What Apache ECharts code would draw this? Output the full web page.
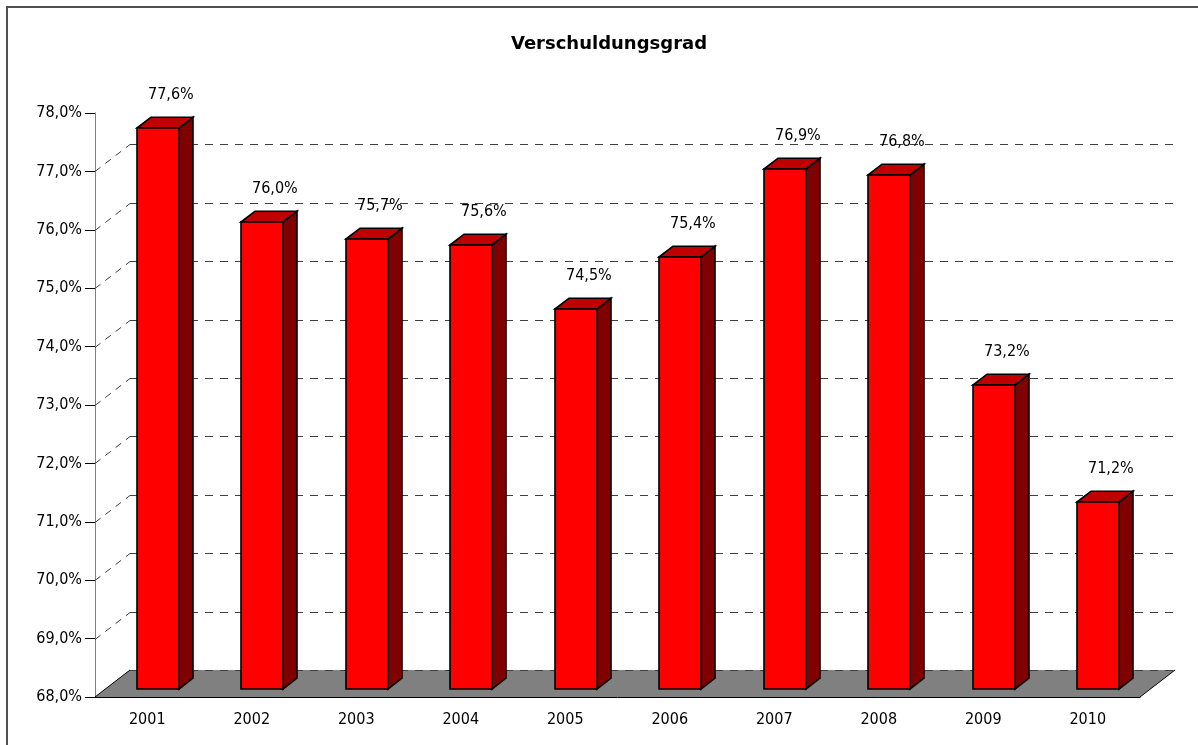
<!DOCTYPE html>
<html>
<head>
<meta charset="utf-8">
<title>Verschuldungsgrad</title>
<script src="https://cdn.jsdelivr.net/npm/echarts@6/dist/echarts.min.js"></script>
<style>
  html, body { margin: 0; padding: 0; background: #fff; }
  #chart { width: 1198px; height: 745px; }
</style>
</head>
<body>
<div id="chart"></div>
<script>
// Daten
var jahre = ['2001', '2002', '2003', '2004', '2005', '2006', '2007', '2008', '2009', '2010'];
var verschuldungsgrad = [77.6, 76.0, 75.7, 75.6, 74.5, 75.4, 76.9, 76.8, 73.2, 71.2];
var gitterWerte = [68, 69, 70, 71, 72, 73, 74, 75, 76, 77];

var FONT = "'DejaVu Sans Condensed', 'DejaVu Sans', sans-serif";
// 3D-Tiefe der Rückwand (px)
var DX = 35, DY = 27;
// Lage der Säulen in der Tiefe (Anteil) und Säulenbreite (Anteil der Kategorie)
var F_FRONT = 0.3, F_DEPTH = 0.4, BAR_W = 0.4;

function fmt(v) {
  return v.toFixed(1).replace('.', ',') + '%';
}

var myChart = echarts.init(document.getElementById('chart'));

var option = {
  animation: false,
  title: {
    text: 'Verschuldungsgrad',
    left: 604,
    top: 30,
    textAlign: 'center',
    textStyle: { fontFamily: "'DejaVu Sans', sans-serif", fontSize: 18, fontWeight: 'bold', color: '#000' }
  },
  graphic: [{
    type: 'rect',
    shape: { x: 7, y: 7, width: 1300, height: 900 },
    style: { fill: 'none', stroke: '#505050', lineWidth: 2 },
    silent: true
  }],
  grid: { left: 95, right: 58, top: 113, bottom: 48 },
  xAxis: {
    type: 'category',
    data: jahre,
    boundaryGap: true,
    axisLine: { lineStyle: { color: '#000' } },
    axisTick: { length: 10, lineStyle: { color: '#000' } },
    axisLabel: { fontFamily: FONT, fontSize: 16, color: '#000', margin: 15 },
    splitLine: { show: false },
    z: 5
  },
  yAxis: {
    type: 'value',
    min: 68,
    max: 78,
    interval: 1,
    axisLine: { show: true, lineStyle: { color: '#808080' } },
    axisTick: { show: true, length: 10, lineStyle: { color: '#000' } },
    axisLabel: {
      fontFamily: FONT, fontSize: 16, color: '#000', margin: 13,
      formatter: function (v) { return fmt(v); }
    },
    splitLine: { show: false }
  },
  series: [
    {
      // Boden
      type: 'custom',
      z: 1,
      data: [[0, 68]],
      renderItem: function (params, api) {
        var cs = params.coordSys;
        var y0 = api.coord([0, api.value(1)])[1];
        var x0 = cs.x, x1 = cs.x + cs.width;
        return {
          type: 'group',
          children: [
            {
              type: 'polygon',
              shape: { points: [[x0, y0], [x1, y0], [x1 + DX, y0 - DY], [x0 + DX, y0 - DY]] },
              style: { fill: '#808080' }
            },
            {
              type: 'line',
              shape: { x1: x0, y1: y0, x2: x0 + DX, y2: y0 - DY },
              style: { stroke: '#000', lineWidth: 1 }
            },
            {
              type: 'line',
              shape: { x1: x1, y1: y0, x2: x1 + DX, y2: y0 - DY },
              style: { stroke: '#000', lineWidth: 1 }
            }
          ]
        };
      }
    },
    {
      // Gitterlinien an der Rückwand
      type: 'custom',
      z: 2,
      data: gitterWerte.map(function (v) { return [0, v]; }),
      renderItem: function (params, api) {
        var cs = params.coordSys;
        var v = api.value(1);
        var y = Math.round(api.coord([0, v])[1]) + 0.5;
        var x0 = cs.x, x1 = cs.x + cs.width;
        var children = [{
          type: 'line',
          shape: { x1: x0 + DX, y1: y - DY, x2: x1 + DX, y2: y - DY },
          style: { stroke: '#404040', lineWidth: 1, lineDash: [8, 7] }
        }];
        if (v > 68) {
          children.push({
            type: 'line',
            shape: { x1: x0, y1: y, x2: x0 + DX, y2: y - DY },
            style: { stroke: '#404040', lineWidth: 1, lineDash: [7, 6] }
          });
        }
        return { type: 'group', children: children };
      }
    },
    {
      // 3D-Säulen
      type: 'custom',
      z: 3,
      data: verschuldungsgrad.map(function (v, i) { return [i, v]; }),
      renderItem: function (params, api) {
        var idx = api.value(0);
        var v = api.value(1);
        var top = api.coord([idx, v]);
        var base = api.coord([idx, 68]);
        var band = api.size([1, 0])[0];
        var w = band * BAR_W;
        var ox = DX * F_FRONT, oy = DY * F_FRONT;
        var dx = DX * F_DEPTH, dy = DY * F_DEPTH;
        var xl = Math.round(top[0] - w / 2 + ox);
        var xr = Math.round(xl + w);
        var yt = Math.round(top[1] - oy);
        var yb = Math.round(base[1] - oy);
        var line = { stroke: '#000', lineWidth: 1.6, lineJoin: 'miter' };
        return {
          type: 'group',
          children: [
            {
              type: 'polygon',
              shape: { points: [[xr, yt], [xr + dx, yt - dy], [xr + dx, yb - dy], [xr, yb]] },
              style: Object.assign({ fill: '#800000' }, line)
            },
            {
              type: 'polygon',
              shape: { points: [[xl, yt], [xl + dx, yt - dy], [xr + dx, yt - dy], [xr, yt]] },
              style: Object.assign({ fill: '#C00000' }, line)
            },
            {
              type: 'rect',
              shape: { x: xl, y: yt, width: xr - xl, height: yb - yt },
              style: Object.assign({ fill: '#FF0000' }, line)
            },
            {
              type: 'text',
              style: {
                text: fmt(v),
                x: xl + w / 2 + 13,
                y: yt - 33,
                align: 'center',
                verticalAlign: 'middle',
                fontFamily: FONT,
                fontSize: 16,
                fill: '#000'
              }
            }
          ]
        };
      }
    }
  ]
};

myChart.setOption(option);
</script>
</body>
</html>
